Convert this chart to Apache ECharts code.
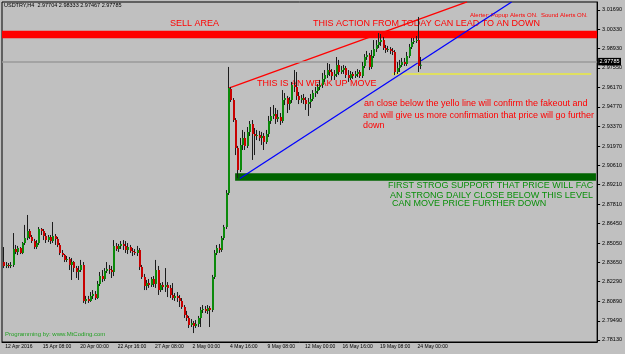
<!DOCTYPE html>
<html>
<head>
<meta charset="utf-8">
<script src="https://cdn.jsdelivr.net/npm/echarts@6.0.0/dist/echarts.min.js"></script>
<style>
  html, body { margin: 0; padding: 0; background: #c0c0c0; }
  #chart { width: 625px; height: 354px; }
</style>
</head>
<body>
<div id="chart"></div>
<script>
// USDTRY H4, 12 Apr 2016 16:00 .. 24 May 2016 08:00
// each row: [open, close, low, high]
var ohlc = [
  [2.8369, 2.8341, 2.8326, 2.8476], [2.8341, 2.8348, 2.8326, 2.8369], [2.8348, 2.8341, 2.8326, 2.8362], [2.8341, 2.8348, 2.8326, 2.8369],
  [2.8348, 2.8462, 2.8334, 2.8576], [2.8462, 2.8441, 2.8426, 2.8491], [2.8441, 2.8469, 2.8419, 2.8484], [2.8469, 2.8434, 2.8426, 2.8476],
  [2.8434, 2.8505, 2.8426, 2.8512], [2.8505, 2.8541, 2.8491, 2.8634], [2.8541, 2.8591, 2.8526, 2.8705], [2.8591, 2.8548, 2.8534, 2.8605],
  [2.8548, 2.8519, 2.8505, 2.8562], [2.8519, 2.8476, 2.8462, 2.8534], [2.8476, 2.8505, 2.8462, 2.8526], [2.8505, 2.8605, 2.8491, 2.8619],
  [2.8605, 2.8591, 2.8562, 2.8612], [2.8591, 2.8555, 2.8526, 2.8605], [2.8555, 2.8526, 2.8505, 2.8576], [2.8526, 2.8548, 2.8512, 2.8562],
  [2.8548, 2.8519, 2.8498, 2.8562], [2.8519, 2.8555, 2.8505, 2.8655], [2.8555, 2.8534, 2.8491, 2.8569], [2.8534, 2.8491, 2.8476, 2.8548],
  [2.8491, 2.8434, 2.8419, 2.8505], [2.8434, 2.8419, 2.8405, 2.8455], [2.8419, 2.8384, 2.8369, 2.8426], [2.8384, 2.8391, 2.8369, 2.8412],
  [2.8391, 2.8348, 2.8312, 2.8405], [2.8348, 2.8369, 2.8241, 2.8398], [2.8369, 2.8326, 2.8298, 2.8376], [2.8326, 2.8298, 2.8255, 2.8341],
  [2.8298, 2.8312, 2.8241, 2.8341], [2.8312, 2.8348, 2.8298, 2.8384], [2.8348, 2.8091, 2.8077, 2.8369], [2.8091, 2.8105, 2.8069, 2.8127],
  [2.8105, 2.8091, 2.8077, 2.8127], [2.8091, 2.8127, 2.8084, 2.8155], [2.8127, 2.8141, 2.8105, 2.8169], [2.8141, 2.8112, 2.8098, 2.8162],
  [2.8112, 2.8212, 2.8105, 2.8234], [2.8212, 2.8269, 2.8198, 2.8298], [2.8269, 2.8248, 2.8226, 2.8312], [2.8248, 2.8305, 2.8234, 2.8326],
  [2.8305, 2.8319, 2.8291, 2.8369], [2.8319, 2.8312, 2.8284, 2.8348], [2.8312, 2.8298, 2.8255, 2.8341], [2.8298, 2.8484, 2.8269, 2.8526],
  [2.8484, 2.8462, 2.8448, 2.8505], [2.8462, 2.8484, 2.8441, 2.8498], [2.8484, 2.8498, 2.8462, 2.8519], [2.8498, 2.8484, 2.8455, 2.8526],
  [2.8484, 2.8455, 2.8434, 2.8519], [2.8455, 2.8476, 2.8426, 2.8505], [2.8476, 2.8448, 2.8434, 2.8491], [2.8448, 2.8441, 2.8412, 2.8469],
  [2.8441, 2.8434, 2.8419, 2.8462], [2.8434, 2.8455, 2.8412, 2.8484], [2.8455, 2.8334, 2.8312, 2.8469], [2.8334, 2.8262, 2.8248, 2.8348],
  [2.8262, 2.8198, 2.8169, 2.8284], [2.8198, 2.8219, 2.8169, 2.8241], [2.8219, 2.8205, 2.8184, 2.8248], [2.8205, 2.8248, 2.8191, 2.8262],
  [2.8248, 2.8212, 2.8191, 2.8269], [2.8212, 2.8312, 2.8184, 2.8384], [2.8312, 2.8169, 2.8134, 2.8341], [2.8169, 2.8205, 2.8155, 2.8219],
  [2.8205, 2.8191, 2.8169, 2.8226], [2.8191, 2.8205, 2.8155, 2.8326], [2.8205, 2.8184, 2.8119, 2.8226], [2.8184, 2.8134, 2.8112, 2.8205],
  [2.8134, 2.8112, 2.8098, 2.8219], [2.8112, 2.8127, 2.8091, 2.8148], [2.8127, 2.8112, 2.8084, 2.8155], [2.8112, 2.8091, 2.8048, 2.8134],
  [2.8091, 2.8048, 2.8034, 2.8112], [2.8048, 2.7991, 2.7970, 2.8062], [2.7991, 2.7970, 2.7948, 2.8020], [2.7970, 2.7920, 2.7898, 2.7984],
  [2.7920, 2.7934, 2.7905, 2.7962], [2.7934, 2.7912, 2.7862, 2.7948], [2.7912, 2.7927, 2.7898, 2.7955], [2.7927, 2.7970, 2.7905, 2.7984],
  [2.7970, 2.8027, 2.7905, 2.8048], [2.8027, 2.8034, 2.8005, 2.8062], [2.8034, 2.8020, 2.8005, 2.8055], [2.8020, 2.8041, 2.7998, 2.8062],
  [2.8041, 2.8027, 2.7905, 2.8055], [2.8027, 2.8262, 2.8012, 2.8277], [2.8262, 2.8434, 2.8248, 2.8455], [2.8434, 2.8469, 2.8419, 2.8491],
  [2.8469, 2.8455, 2.8434, 2.8498], [2.8455, 2.8541, 2.8441, 2.8555], [2.8541, 2.8619, 2.8526, 2.8634], [2.8619, 2.8862, 2.8605, 2.8883],
  [2.8862, 2.9612, 2.8848, 2.9762], [2.9605, 2.9526, 2.9512, 2.9619], [2.9526, 2.9383, 2.9369, 2.9540], [2.9383, 2.9183, 2.9133, 2.9397],
  [2.9183, 2.9026, 2.8969, 2.9198], [2.9026, 2.9205, 2.9012, 2.9255], [2.9205, 2.9255, 2.9169, 2.9312], [2.9255, 2.9198, 2.9169, 2.9298],
  [2.9198, 2.9298, 2.9183, 2.9333], [2.9298, 2.9355, 2.9269, 2.9376], [2.9355, 2.9283, 2.9098, 2.9383], [2.9283, 2.9269, 2.9133, 2.9326],
  [2.9269, 2.9276, 2.9240, 2.9312], [2.9276, 2.9255, 2.9233, 2.9305], [2.9255, 2.9269, 2.9205, 2.9298], [2.9269, 2.9226, 2.9169, 2.9290],
  [2.9226, 2.9283, 2.9212, 2.9312], [2.9283, 2.9376, 2.9262, 2.9412], [2.9376, 2.9412, 2.9355, 2.9476], [2.9412, 2.9426, 2.9390, 2.9490],
  [2.9426, 2.9390, 2.9355, 2.9469], [2.9390, 2.9405, 2.9369, 2.9455], [2.9405, 2.9376, 2.9348, 2.9433], [2.9376, 2.9526, 2.9362, 2.9597],
  [2.9526, 2.9540, 2.9490, 2.9576], [2.9540, 2.9497, 2.9433, 2.9555], [2.9497, 2.9526, 2.9455, 2.9547], [2.9526, 2.9633, 2.9505, 2.9655],
  [2.9633, 2.9619, 2.9583, 2.9740], [2.9619, 2.9555, 2.9526, 2.9726], [2.9555, 2.9526, 2.9497, 2.9583], [2.9526, 2.9540, 2.9505, 2.9562],
  [2.9540, 2.9526, 2.9497, 2.9569], [2.9526, 2.9497, 2.9455, 2.9547], [2.9497, 2.9512, 2.9412, 2.9540], [2.9512, 2.9533, 2.9469, 2.9569],
  [2.9533, 2.9576, 2.9519, 2.9597], [2.9576, 2.9590, 2.9547, 2.9619], [2.9590, 2.9619, 2.9569, 2.9640], [2.9619, 2.9633, 2.9597, 2.9669],
  [2.9633, 2.9676, 2.9612, 2.9719], [2.9676, 2.9704, 2.9655, 2.9740], [2.9704, 2.9740, 2.9683, 2.9790], [2.9740, 2.9726, 2.9697, 2.9783],
  [2.9726, 2.9697, 2.9669, 2.9747], [2.9697, 2.9712, 2.9669, 2.9740], [2.9712, 2.9776, 2.9690, 2.9833], [2.9776, 2.9726, 2.9704, 2.9812],
  [2.9726, 2.9740, 2.9712, 2.9769], [2.9740, 2.9754, 2.9712, 2.9776], [2.9754, 2.9704, 2.9683, 2.9769], [2.9704, 2.9683, 2.9655, 2.9740],
  [2.9683, 2.9712, 2.9669, 2.9733], [2.9712, 2.9697, 2.9676, 2.9726], [2.9697, 2.9712, 2.9683, 2.9733], [2.9712, 2.9726, 2.9690, 2.9747],
  [2.9726, 2.9697, 2.9683, 2.9740], [2.9697, 2.9769, 2.9683, 2.9797], [2.9769, 2.9833, 2.9754, 2.9854], [2.9833, 2.9847, 2.9812, 2.9876],
  [2.9847, 2.9762, 2.9740, 2.9862], [2.9762, 2.9840, 2.9747, 2.9883], [2.9840, 2.9890, 2.9826, 2.9954], [2.9890, 2.9919, 2.9869, 2.9954],
  [2.9919, 2.9940, 2.9897, 3.0004], [2.9940, 2.9954, 2.9912, 2.9997], [2.9954, 2.9897, 2.9883, 2.9976], [2.9897, 2.9883, 2.9862, 2.9919],
  [2.9883, 2.9890, 2.9869, 2.9912], [2.9890, 2.9876, 2.9854, 2.9904], [2.9876, 2.9869, 2.9847, 2.9897], [2.9869, 2.9726, 2.9704, 2.9883],
  [2.9726, 2.9754, 2.9712, 2.9797], [2.9754, 2.9776, 2.9726, 2.9812], [2.9776, 2.9797, 2.9762, 2.9826], [2.9797, 2.9783, 2.9769, 2.9826],
  [2.9783, 2.9840, 2.9769, 2.9869], [2.9840, 2.9904, 2.9826, 2.9926], [2.9904, 2.9940, 2.9890, 2.9969], [2.9940, 2.9947, 2.9926, 2.9969],
  [2.9947, 2.9954, 2.9933, 2.9983], [2.9954, 2.9769, 2.9726, 3.0119], [2.97704, 2.97785, 2.97467, 2.98333]
]

var totalSlots = 254 // bars + empty shift area on the right
var xTickLabels = ['12 Apr 2016', '15 Apr 08:00', '20 Apr 00:00', '22 Apr 16:00', '27 Apr 08:00', '2 May 00:00',
  '4 May 16:00', '9 May 08:00', '12 May 00:00', '16 May 16:00', '19 May 08:00', '24 May 00:00']
var yTicks = [2.78130, 2.79490, 2.80890, 2.82290, 2.83650, 2.85050, 2.86450, 2.87810, 2.89210,
  2.90610, 2.91970, 2.93370, 2.94770, 2.96170, 2.97550, 2.98930, 3.00330, 3.01690]

var lastPrice = 2.97785
var sellArea = [2.99665, 3.00201]
var supportLevel = 2.89762
var yellowLevel = 2.97116
var redTrend = [[96, 2.96096], [198, 3.0226]]
var blueTrend = [[101, 2.89655], [217, 3.02257]]

// H4 time axis, weekdays only
var dates = []
var t = Date.UTC(2016, 3, 12, 16)
while (dates.length < totalSlots) {
  var d = new Date(t)
  var wd = d.getUTCDay()
  if (wd !== 0 && wd !== 6) dates.push(d.toISOString().slice(0, 16).replace('T', ' '))
  t += 4 * 3600 * 1000
}

var candleData = ohlc.map(function (r, i) { return [i, r[0], r[1], r[2], r[3]] })

function showTick (idx) {
  return idx % 16 === 0 && idx / 16 < xTickLabels.length
}

function renderCandle (params, api) {
  var i = api.value(0)
  var o = api.coord([i, api.value(1)])
  var c = api.coord([i, api.value(2)])
  var l = api.coord([i, api.value(3)])
  var h = api.coord([i, api.value(4)])
  var px = Math.round(o[0])
  var top = Math.min(o[1], c[1])
  var bot = Math.max(o[1], c[1])
  var up = api.value(2) >= api.value(1)
  return {
    type: 'group',
    children: [
      { type: 'line', shape: { x1: px + 0.5, y1: h[1], x2: px + 0.5, y2: l[1] }, style: { stroke: '#1c1c1c', lineWidth: 1 } },
      { type: 'rect', shape: { x: px, y: top, width: 2, height: Math.max(bot - top, 1) }, style: { fill: up ? '#0b8a0b' : '#c80000' } }
    ]
  }
}

var font = "'Liberation Sans', Arial, sans-serif"
function label (x, y, text, size, color, extra) {
  var st = { text: text, fontSize: size, fontFamily: font, fill: color, verticalAlign: 'middle' }
  if (extra) Object.assign(st, extra)
  return { type: 'text', x: x, y: y, z: 0, style: st }
}

var chart = echarts.init(document.getElementById('chart'))
chart.setOption({
  animation: false,
  backgroundColor: '#c0c0c0',
  grid: { left: 2, right: 25, top: 2, bottom: 12, show: true, borderColor: '#000', borderWidth: 1 },
  xAxis: {
    type: 'category',
    data: dates,
    boundaryGap: true,
    axisLine: { lineStyle: { color: '#000' } },
    axisTick: { interval: function (idx) { return showTick(idx) }, alignWithLabel: true, length: 3, lineStyle: { color: '#000' } },
    axisLabel: {
      interval: function (idx) { return showTick(idx) },
      formatter: function (v, idx) { return xTickLabels[idx / 16] },
      align: 'left', margin: 2, padding: [0, 0, 0, 2],
      fontSize: 5, fontFamily: font, color: '#000'
    },
    splitLine: { show: false }
  },
  yAxis: {
    type: 'value',
    position: 'right',
    min: 2.77981,
    max: 3.02257,
    axisLine: { show: true, lineStyle: { color: '#000' } },
    axisTick: { show: true, length: 3, customValues: yTicks, lineStyle: { color: '#000' } },
    axisLabel: {
      customValues: yTicks,
      formatter: function (v) { return v.toFixed(5) },
      margin: 5, fontSize: 5.5, fontFamily: font, color: '#000'
    },
    splitLine: { show: false }
  },
  graphic: [
    label(4, 5.5, 'USDTRY,H4  2.97704 2.98333 2.97467 2.97785', 5.5, '#000'),
    label(170, 23.5, 'SELL AREA', 9, '#ff0000'),
    label(313, 23.5, 'THIS ACTION FROM TODAY CAN LEAD TO AN DOWN', 9, '#ff0000'),
    label(470, 15, 'Alerter: Popup Alerts ON.  Sound Alerts ON.', 6, '#ff0000'),
    label(257, 84, 'THIS IS AN WEAK UP MOVE', 9, '#ff0000'),
    label(364, 104, 'an close below the yello line will confirm the fakeout and', 9, '#ff0000'),
    label(363, 116, 'and will give us more confirmation that price will go further', 9, '#ff0000'),
    label(363, 126, 'down', 9, '#ff0000'),
    label(388, 185.5, 'FIRST STROG SUPPORT THAT PRICE WILL FACE', 9, '#0a8f0a', { width: 212, overflow: 'truncate', ellipsis: '' }),
    label(390, 195.5, 'AN STRONG DAILY CLOSE BELOW THIS LEVEL', 9, '#0a8f0a'),
    label(392, 204, 'CAN MOVE PRICE FURTHER DOWN', 9, '#0a8f0a'),
    label(5, 334.5, 'Programming by: www.MtCoding.com', 6, '#23a023')
  ],
  series: [
    {
      type: 'line',
      z: 1,
      data: [[99, supportLevel], [253, supportLevel]],
      showSymbol: false,
      symbol: 'none',
      lineStyle: { color: '#006400', width: 7.5, cap: 'butt' },
      markArea: {
        silent: true,
        itemStyle: { color: '#ff0000' },
        data: [[{ yAxis: sellArea[0] }, { yAxis: sellArea[1] }]]
      },
      markLine: {
        silent: true,
        symbol: 'none',
        lineStyle: { color: '#9a9a9a', width: 1.5, type: 'solid' },
        label: {
          position: 'end', distance: 1, formatter: lastPrice.toFixed(5),
          backgroundColor: '#000', color: '#fff', fontSize: 5.5, fontFamily: font, padding: [1, 1.5, 0.5, 1.5]
        },
        data: [{ yAxis: lastPrice }]
      }
    },
    {
      type: 'line', z: 2, data: [[166, yellowLevel], [251, yellowLevel]],
      showSymbol: false, symbol: 'none', lineStyle: { color: '#ffff00', width: 1 }
    },
    {
      type: 'line', z: 2, data: redTrend,
      showSymbol: false, symbol: 'none', lineStyle: { color: '#ff0000', width: 1.3 }
    },
    {
      type: 'line', z: 2, data: blueTrend,
      showSymbol: false, symbol: 'none', lineStyle: { color: '#0000ff', width: 1.3 }
    },
    {
      type: 'custom',
      z: 10,
      renderItem: renderCandle,
      encode: { x: 0, y: [1, 2, 3, 4] },
      data: candleData
    }
  ]
})
</script>
</body>
</html>
